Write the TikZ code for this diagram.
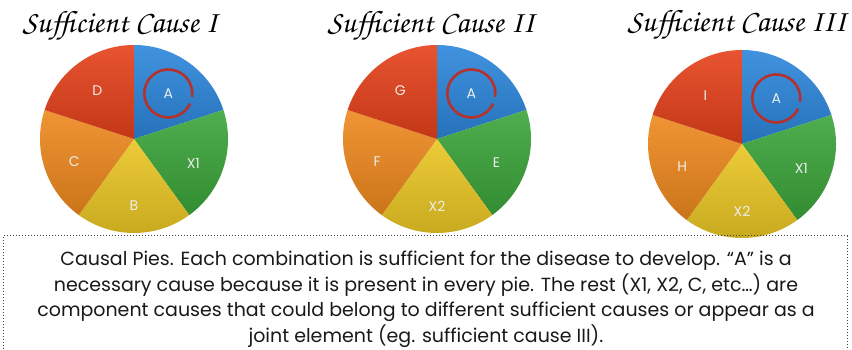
\documentclass[tikz,border=0pt]{standalone}
\usepackage{fontspec}
\setsansfont{Poppins}
\usetikzlibrary{positioning}

\definecolor{pieblue}{HTML}{2C86DB}
\definecolor{piegreen}{HTML}{3BA53A}
\definecolor{pieyellow}{HTML}{EAC623}
\definecolor{pieorange}{HTML}{EE891E}
\definecolor{piered}{HTML}{E5411A}
\definecolor{ringred}{HTML}{B4322B}

\newcommand{\pierad}{94pt}
\newcommand{\titlehand}{\fontencoding{OT1}\fontfamily{pzc}\fontseries{mb}\fontshape{it}\fontsize{31}{31}\selectfont}

% #1 name, #2 centre, #3 blue, #4 green, #5 yellow, #6 orange, #7 red
\newcommand{\causalpie}[7]{%
  \coordinate (#1) at (#2);
  \shade[piece=pieblue]   (#1) -- ++(18:\pierad)   arc[start angle=18,   end angle=90,  radius=\pierad] -- cycle;
  \shade[piece=piegreen]  (#1) -- ++(-54:\pierad)  arc[start angle=-54,  end angle=18,  radius=\pierad] -- cycle;
  \shade[piece=pieyellow] (#1) -- ++(-126:\pierad) arc[start angle=-126, end angle=-54, radius=\pierad] -- cycle;
  \shade[piece=pieorange] (#1) -- ++(162:\pierad)  arc[start angle=162,  end angle=234, radius=\pierad] -- cycle;
  \shade[piece=piered]    (#1) -- ++(90:\pierad)   arc[start angle=90,   end angle=162, radius=\pierad] -- cycle;
  \node[slicelabel] (#1-a) at ([shift={(53:57pt)}]#1)   {#3};
  \node[slicelabel] (#1-b) at ([shift={(-22:64pt)}]#1)  {#4};
  \node[slicelabel] (#1-c) at ([shift={(-90:67pt)}]#1)  {#5};
  \node[slicelabel] (#1-d) at ([shift={(201:64pt)}]#1)  {#6};
  \node[slicelabel] (#1-e) at ([shift={(127:61pt)}]#1)  {#7};
  \draw[ring] ([shift={(-8:24pt)}]#1-a.center) arc[start angle=-8, end angle=335, radius=24pt];
}

\begin{document}
\begin{tikzpicture}[
  x=1pt, y=1pt,
  piece/.style={top color=#1!90!white, bottom color=#1!85!black, shading angle=0},
  slicelabel/.style={font=\sffamily\fontsize{14}{14}\selectfont, text=white!93!black,
                     inner sep=0pt},
  ring/.style={draw=ringred, line width=2.6pt},
  title/.style={font=\titlehand, inner sep=0pt},
  caption/.style={font=\sffamily\fontsize{19}{25.5}\selectfont, align=center,
                  inner sep=0pt, text=black!90}
]
\useasboundingbox (0,0) rectangle (852,350);

\causalpie{p1}{134,211}{A}{X1}{B}{C}{D}
\causalpie{p2}{437,211}{A}{E}{X2}{F}{G}
\causalpie{p3}{742,206}{A}{X1}{X2}{H}{I}

\node[title] (t1) at (120,324) {Sufficient Cause I};
\node[title] (t2) at (431,324) {Sufficient Cause II};
\node[title] (t3) at (737,325) {Sufficient Cause III};

\draw[dotted, line width=1pt, draw=black!75] (3,-20) rectangle (847,114);
\node[caption, anchor=north] (cap) at (426,99)
  {Causal Pies. Each combination is sufficient for the disease to develop. “A” is a\\
   necessary cause because it is present in every pie. The rest (X1, X2, C, etc…) are\\
   component causes that could belong to different sufficient causes or appear as a\\
   joint element (eg. sufficient cause III).};
\end{tikzpicture}
\end{document}
